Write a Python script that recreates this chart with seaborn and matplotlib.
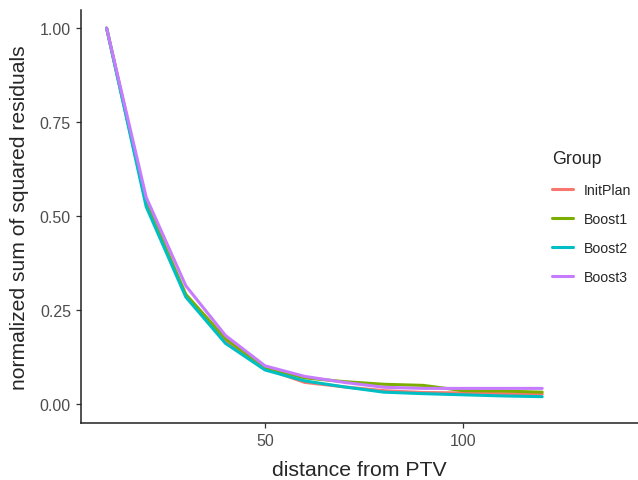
import pandas as pd
import matplotlib
matplotlib.use('Agg')
import matplotlib.pyplot as plt
import seaborn as sns

# valores
distance = [10, 20, 30, 40, 50, 60, 70, 80, 90, 100, 110, 120]
groups = ['InitPlan', 'Boost1', 'Boost2', 'Boost3']
init_plan = [1.00, 0.535, 0.290, 0.170, 0.095, 0.058, 0.046, 0.036, 0.031, 0.030, 0.028, 0.027]
boost1 = [1.00, 0.535, 0.292, 0.175, 0.097, 0.070, 0.060, 0.053, 0.050, 0.036, 0.035, 0.032]
boost2 = [1.00, 0.525, 0.285, 0.162, 0.091, 0.062, 0.046, 0.032, 0.028, 0.025, 0.022, 0.020]
boost3 = [1.00, 0.550, 0.315, 0.183, 0.102, 0.074, 0.058, 0.045, 0.042, 0.042, 0.042, 0.042]
colors = ['#F8766D', '#7CAE00', '#00BFC4', '#C77CFF']

df = pd.DataFrame({
    'distance': distance * 4,
    'value': init_plan + boost1 + boost2 + boost3,
    'Group': sum([[g] * len(distance) for g in groups], []),
})

sns.set_style('ticks')
plt.rcParams['font.family'] = ['Liberation Sans', 'DejaVu Sans']

fig = plt.figure(figsize=(6.38, 4.81), dpi=100)
ax = fig.add_axes([0.1265, 0.1185, 0.8735, 0.8585])
sns.lineplot(data=df, x='distance', y='value', hue='Group', hue_order=groups,
             palette=colors, linewidth=2.2, ax=ax, legend=False)

ax.set_xlim(3.46, 144.2)
ax.set_ylim(-0.05, 1.048)
ax.set_xticks([50, 100])
ax.set_yticks([0, 0.25, 0.5, 0.75, 1.0])
ax.set_yticklabels(['0.00', '0.25', '0.50', '0.75', '1.00'])
ax.tick_params(labelsize=11.5, labelcolor='#4D4D4D', color='#333333', length=3.5, width=0.9)
ax.set_xlabel('distance from PTV', fontsize=15.3, labelpad=9)
ax.set_ylabel('normalized sum of squared residuals', fontsize=15.2, labelpad=8)
for s in ['top', 'right']:
    ax.spines[s].set_visible(False)
for s in ['left', 'bottom']:
    ax.spines[s].set_linewidth(1.1)
    ax.spines[s].set_color('#222222')

handles = [plt.Line2D([], [], color=c, lw=2.2) for c in colors]
leg = fig.legend(handles, groups, title='Group', loc='upper left',
                 bbox_to_anchor=(0.857, 0.697), frameon=False, fontsize=10.2,
                 title_fontsize=12.8, handlelength=1.45, labelspacing=1.07,
                 handletextpad=0.75, borderaxespad=0)
leg._legend_box.align = 'left'

plt.savefig('out.png', dpi=100)
plt.close()
